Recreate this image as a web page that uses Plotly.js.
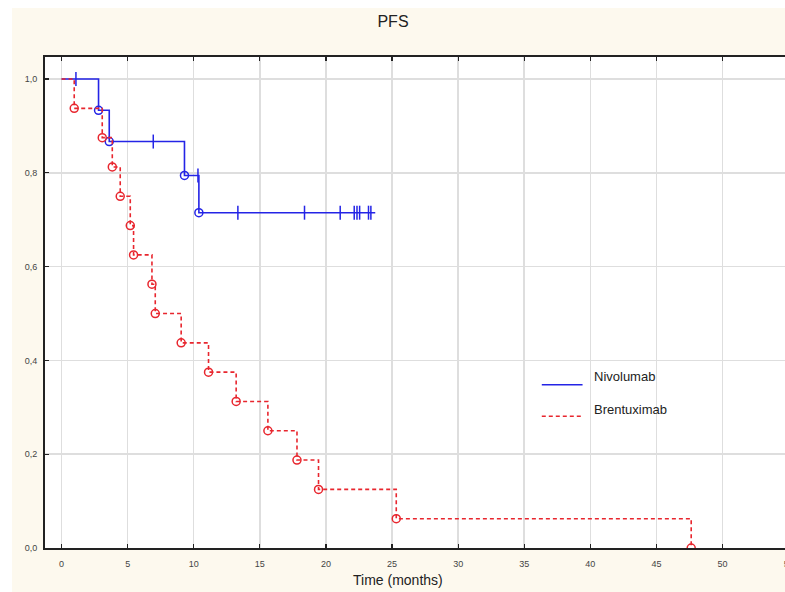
<!DOCTYPE html>
<html>
<head>
<meta charset="utf-8">
<script src="https://cdn.plot.ly/plotly-3.0.1.min.js"></script>
<style>
  html, body { margin: 0; padding: 0; background: #ffffff; overflow: hidden; width: 785px; height: 592px; }
  #chart { position: absolute; left: 12px; top: 8px; width: 788px; height: 584px; }
</style>
</head>
<body>
<div id="chart"></div>
<script>
// ---- Data ----
const nivoTime = [0, 2.80, 3.61, 9.30, 10.39, 23.73];
const nivoSurv = [1.0, 0.9333, 0.8667, 0.7944, 0.7150, 0.7150];
const nivoEventTime = [2.80, 3.61, 9.30, 10.39];
const nivoEventSurv = [0.9333, 0.8667, 0.7944, 0.7150];
const nivoCensorTime = [1.09, 6.94, 10.32, 13.34, 18.38, 21.08, 22.14, 22.35, 22.55, 23.22, 23.40];
const nivoCensorSurv = [1.0, 0.8667, 0.7944, 0.7150, 0.7150, 0.7150, 0.7150, 0.7150, 0.7150, 0.7150, 0.7150];

const brenTime = [0, 0.96, 3.08, 3.84, 4.44, 5.20, 5.45, 6.84, 7.09, 9.05, 11.12, 13.21, 15.61, 17.81, 19.44, 25.32, 47.63];
const brenSurv = [1.0, 0.9375, 0.875, 0.8125, 0.75, 0.6875, 0.625, 0.5625, 0.5, 0.4375, 0.375, 0.3125, 0.25, 0.1875, 0.125, 0.0625, 0.0];
const brenEventTime = brenTime.slice(1);
const brenEventSurv = brenSurv.slice(1);

const xTicks = [0, 5, 10, 15, 20, 25, 30, 35, 40, 45, 50, 55];
const yTicks = [0, 0.2, 0.4, 0.6, 0.8, 1.0];
const seriesNames = ['Nivolumab', 'Brentuximab'];

const BLUE = '#2424e6';
const RED = '#e8262e';

const traces = [
  { x: nivoTime, y: nivoSurv, type: 'scatter', mode: 'lines', line: { color: BLUE, width: 1.6, shape: 'hv' }, name: seriesNames[0], hoverinfo: 'skip' },
  { x: nivoEventTime, y: nivoEventSurv, type: 'scatter', mode: 'markers', marker: { symbol: 'circle-open', size: 8, color: BLUE, line: { width: 1.5, color: BLUE } }, hoverinfo: 'skip' },
  { x: nivoCensorTime, y: nivoCensorSurv, type: 'scatter', mode: 'markers', marker: { symbol: 'line-ns-open', size: 10, color: BLUE, line: { width: 1.5, color: BLUE } }, hoverinfo: 'skip' },
  { x: brenTime, y: brenSurv, type: 'scatter', mode: 'lines', line: { color: RED, width: 1.6, shape: 'hv', dash: '4px,3px' }, name: seriesNames[1], hoverinfo: 'skip' },
  { x: brenEventTime, y: brenEventSurv, type: 'scatter', mode: 'markers', marker: { symbol: 'circle-open', size: 8, color: RED, line: { width: 1.5, color: RED } }, hoverinfo: 'skip' }
];

const tickFont = { family: '"Liberation Sans Narrow", "Liberation Sans", Arial, sans-serif', size: 9, color: '#444' };

const layout = {
  width: 788, height: 584,
  margin: { l: 33, r: 0, t: 49, b: 44, pad: 0 },
  paper_bgcolor: '#fdf9ee',
  plot_bgcolor: '#ffffff',
  showlegend: false,
  separators: ',.',
  title: {
    text: 'PFS',
    font: { family: '"Liberation Sans", Arial, sans-serif', size: 16, color: '#222' },
    xref: 'container', x: (393 - 12) / 788, xanchor: 'center',
    yref: 'container', y: 1 - (21 - 8) / 584, yanchor: 'middle'
  },
  xaxis: {
    range: [-1.25, 55.86],
    tickvals: xTicks,
    ticktext: xTicks.map(String),
    ticks: 'inside', ticklen: 4, tickwidth: 1.2, tickcolor: '#222',
    showline: true, linecolor: '#222', linewidth: 2, mirror: 'ticks',
    showgrid: true, gridcolor: '#dedede', gridwidth: 1.5,
    zeroline: false,
    tickfont: tickFont,
    ticklabelstandoff: 6
  },
  yaxis: {
    range: [0, 1.047],
    tickvals: yTicks,
    tickformat: '.1f',
    ticks: 'inside', ticklen: 4, tickwidth: 1.2, tickcolor: '#222',
    showline: true, linecolor: '#222', linewidth: 2, mirror: 'ticks',
    showgrid: true, gridcolor: '#dedede', gridwidth: 1.5,
    zeroline: false,
    tickfont: tickFont,
    ticklabelstandoff: 4
  },
  shapes: [
    { type: 'line', xref: 'paper', yref: 'paper', x0: 0.658, x1: 0.712, y0: 0.3326, y1: 0.3326, line: { color: BLUE, width: 1.6 } },
    { type: 'line', xref: 'paper', yref: 'paper', x0: 0.658, x1: 0.712, y0: 0.2682, y1: 0.2682, line: { color: RED, width: 1.6, dash: '4px,3px' } }
  ],
  annotations: [
    { text: 'Time (months)', xref: 'paper', yref: 'paper', x: (398 - 45) / 755, y: (548 - 580) / 491, xanchor: 'center', yanchor: 'middle', showarrow: false,
      font: { family: '"Liberation Sans", Arial, sans-serif', size: 14, color: '#222' } },
    { text: seriesNames[0], xref: 'paper', yref: 'paper', x: 0.724, y: 0.3483, xanchor: 'left', yanchor: 'middle', showarrow: false,
      font: { family: '"Liberation Sans", Arial, sans-serif', size: 13, color: '#222' } },
    { text: seriesNames[1], xref: 'paper', yref: 'paper', x: 0.724, y: 0.2825, xanchor: 'left', yanchor: 'middle', showarrow: false,
      font: { family: '"Liberation Sans", Arial, sans-serif', size: 13, color: '#222' } }
  ]
};

Plotly.newPlot('chart', traces, layout, { displayModeBar: false, staticPlot: true });
</script>
</body>
</html>
